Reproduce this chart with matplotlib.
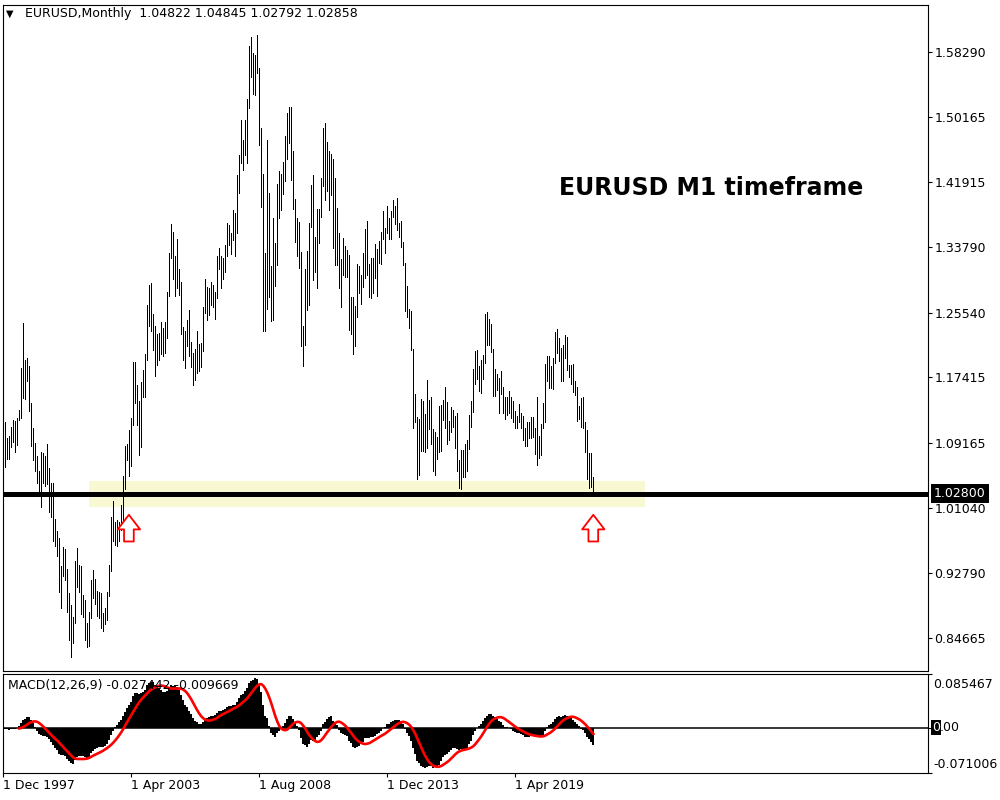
import numpy as np
import pandas as pd
import matplotlib.pyplot as plt

plt.rcParams['font.family'] = ['DejaVu Sans']

# EURUSD monthly bars, Dec 1997 .. Jul 2022 (one row per year)
highs = [
    1.1150, 1.1180, 1.0980, 1.1000, 1.1120, 1.1200, 1.1190, 1.1230, 1.1330, 1.1860, 1.2430, 1.1960, 1.1980,
    1.1880, 1.1415, 1.1100, 1.0920, 1.0750, 1.0560, 1.0800, 1.0790, 1.0760, 1.0900, 1.0600, 1.0420,
    1.0415, 0.9965, 0.9810, 0.9720, 0.9370, 0.9605, 0.9585, 0.9330, 0.9030, 0.8880, 0.8730, 0.9430,
    0.9595, 0.9390, 0.9370, 0.9010, 0.8950, 0.8660, 0.8790, 0.9200, 0.9325, 0.9210, 0.9060, 0.9050,
    0.9030, 0.8780, 0.8850, 0.9040, 0.9380, 0.9990, 1.0190, 0.9930, 0.9950, 0.9930, 1.0140, 1.0500,
    1.0880, 1.0900, 1.1080, 1.1230, 1.1930, 1.1930, 1.1640, 1.1440, 1.1680, 1.1830, 1.2030, 1.2650,
    1.2900, 1.2930, 1.2540, 1.2390, 1.2290, 1.2300, 1.2440, 1.2360, 1.2440, 1.2810, 1.3310, 1.3670,
    1.3570, 1.3270, 1.3480, 1.3100, 1.2940, 1.2370, 1.2320, 1.2460, 1.2590, 1.2180, 1.2050, 1.2100,
    1.2330, 1.2160, 1.2170, 1.2630, 1.2980, 1.2880, 1.2870, 1.2940, 1.2900, 1.2810, 1.3260, 1.3370,
    1.3270, 1.3240, 1.3410, 1.3680, 1.3650, 1.3550, 1.3850, 1.3800, 1.4280, 1.4530, 1.4970, 1.4720,
    1.4970, 1.5240, 1.5900, 1.6020, 1.5820, 1.5790, 1.6040, 1.5630, 1.4870, 1.4300, 1.3300, 1.4720,
    1.4060, 1.3140, 1.3740, 1.3430, 1.4170, 1.4340, 1.4300, 1.4450, 1.4770, 1.5060, 1.5140, 1.5140,
    1.4580, 1.3980, 1.3740, 1.3690, 1.3320, 1.2390, 1.3100, 1.3330, 1.3680, 1.4160, 1.4280, 1.3500,
    1.3860, 1.3860, 1.4250, 1.4880, 1.4940, 1.4700, 1.4580, 1.4550, 1.4480, 1.4250, 1.3870, 1.3550,
    1.3230, 1.3490, 1.3390, 1.3340, 1.3280, 1.2750, 1.2750, 1.2640, 1.3170, 1.3140, 1.3030, 1.3310,
    1.3600, 1.3710, 1.3160, 1.3240, 1.3240, 1.3420, 1.3350, 1.3450, 1.3570, 1.3830, 1.3620, 1.3890,
    1.3740, 1.3830, 1.3970, 1.3900, 1.3990, 1.3680, 1.3700, 1.3440, 1.3180, 1.2890, 1.2600, 1.2570,
    1.2100, 1.1530, 1.1240, 1.1220, 1.1470, 1.1440, 1.1280, 1.1710, 1.1460, 1.1500, 1.1090, 1.1060,
    1.0990, 1.1380, 1.1390, 1.1460, 1.1620, 1.1430, 1.1190, 1.1370, 1.1330, 1.1250, 1.1300, 1.0700,
    1.0830, 1.0830, 1.0910, 1.0960, 1.1270, 1.1450, 1.1850, 1.2070, 1.2090, 1.1880, 1.1960, 1.2020,
    1.2540, 1.2560, 1.2480, 1.2410, 1.2100, 1.1850, 1.1790, 1.1730, 1.1820, 1.1620, 1.1500, 1.1490,
    1.1570, 1.1490, 1.1450, 1.1320, 1.1260, 1.1410, 1.1290, 1.1250, 1.1110, 1.1180, 1.1180, 1.1240,
    1.1240, 1.1100, 1.1500, 1.1000, 1.1150, 1.1420, 1.1910, 1.2010, 1.2010, 1.1880, 1.1990, 1.2310,
    1.2350, 1.2240, 1.2110, 1.2150, 1.2270, 1.2250, 1.1900, 1.1900, 1.1910, 1.1690, 1.1620, 1.1380,
    1.1480, 1.1500, 1.1185, 1.1080, 1.0790, 1.0790, 1.04845,
]
lows = [
    1.0890, 1.0620, 1.0720, 1.0720, 1.0870, 1.0930, 1.0810, 1.0890, 1.1205, 1.1230, 1.1480, 1.1470, 1.1690,
    1.1320, 1.0880, 1.0700, 1.0560, 1.0420, 1.0250, 1.0110, 1.0420, 1.0380, 1.0400, 1.0050, 0.9990,
    0.9680, 0.9620, 0.9500, 0.9050, 0.8844, 0.9250, 0.9200, 0.8790, 0.8440, 0.8228, 0.8400, 0.8660,
    0.9110, 0.9050, 0.8770, 0.8735, 0.8440, 0.8350, 0.8370, 0.8720, 0.8970, 0.8900, 0.8740, 0.8720,
    0.8590, 0.8560, 0.8640, 0.8690, 0.9000, 0.9310, 0.9680, 0.9630, 0.9620, 0.9690, 0.9830, 0.9860,
    1.0340, 1.0700, 1.0500, 1.0630, 1.1140, 1.1420, 1.1140, 1.0770, 1.0870, 1.1500, 1.1500, 1.1960,
    1.2390, 1.2330, 1.2090, 1.1760, 1.1900, 1.1960, 1.2040, 1.2010, 1.2050, 1.2230, 1.2760, 1.3240,
    1.2980, 1.2760, 1.2860, 1.2780, 1.2290, 1.1960, 1.1860, 1.2130, 1.2010, 1.1870, 1.1640, 1.1710,
    1.1800, 1.1820, 1.1870, 1.2070, 1.2550, 1.2460, 1.2520, 1.2650, 1.2620, 1.2480, 1.2740, 1.3100,
    1.2870, 1.2980, 1.3060, 1.3270, 1.3410, 1.3290, 1.3470, 1.3260, 1.3560, 1.4060, 1.4430, 1.4350,
    1.4530, 1.4440, 1.5130, 1.5520, 1.5300, 1.5290, 1.5560, 1.4660, 1.3880, 1.2330, 1.2330, 1.2600,
    1.2750, 1.2450, 1.2460, 1.2890, 1.3150, 1.3740, 1.3850, 1.4050, 1.4210, 1.4480, 1.4680, 1.4220,
    1.3860, 1.3440, 1.3270, 1.3120, 1.2140, 1.1880, 1.2150, 1.2590, 1.2650, 1.3630, 1.2970, 1.3070,
    1.2870, 1.3430, 1.3750, 1.4150, 1.3970, 1.4080, 1.3840, 1.4030, 1.3370, 1.3150, 1.3150, 1.2860,
    1.2620, 1.3030, 1.3000, 1.3000, 1.2340, 1.2290, 1.2040, 1.2130, 1.2500, 1.2800, 1.2660, 1.2880,
    1.2990, 1.3030, 1.2750, 1.2740, 1.2800, 1.2990, 1.2760, 1.3180, 1.3170, 1.3480, 1.3300, 1.3550,
    1.3480, 1.3480, 1.3750, 1.3670, 1.3590, 1.3500, 1.3380, 1.3150, 1.2570, 1.2500, 1.2360, 1.2090,
    1.1100, 1.1180, 1.0460, 1.0520, 1.0820, 1.0820, 1.0810, 1.0850, 1.1090, 1.0900, 1.0560, 1.0520,
    1.0710, 1.0810, 1.0820, 1.1210, 1.1100, 1.0910, 1.0950, 1.1050, 1.1120, 1.0850, 1.0570, 1.0350,
    1.0340, 1.0490, 1.0490, 1.0570, 1.0840, 1.1120, 1.1310, 1.1660, 1.1720, 1.1570, 1.1550, 1.1720,
    1.1920, 1.2150, 1.2150, 1.2060, 1.1510, 1.1510, 1.1580, 1.1300, 1.1530, 1.1300, 1.1220, 1.1270,
    1.1290, 1.1230, 1.1180, 1.1110, 1.1110, 1.1180, 1.1100, 1.0960, 1.0880, 1.0880, 1.0980, 1.0980,
    1.0990, 1.0780, 1.0640, 1.0730, 1.0770, 1.1100, 1.1180, 1.1700, 1.1610, 1.1610, 1.1600, 1.1920,
    1.2050, 1.1950, 1.1700, 1.1700, 1.1990, 1.1840, 1.1750, 1.1660, 1.1560, 1.1520, 1.1190, 1.1220,
    1.1120, 1.1100, 1.0810, 1.0470, 1.0350, 1.0360, 1.02792,
]
closes = [
    1.1000, 1.0800, 1.0900, 1.0800, 1.1000, 1.1000, 1.0980, 1.1150, 1.1250, 1.1800, 1.1700, 1.1550, 1.1750,
    1.1580, 1.0990, 1.0770, 1.0570, 1.0430, 1.0340, 1.0690, 1.0580, 1.0680, 1.0530, 1.0090, 1.0070,
    0.9710, 0.9645, 0.9570, 0.9110, 0.9340, 0.9520, 0.9270, 0.8860, 0.8830, 0.8500, 0.8710, 0.9420,
    0.9370, 0.9210, 0.8780, 0.8880, 0.8460, 0.8480, 0.8760, 0.9120, 0.9120, 0.9030, 0.8910, 0.8900,
    0.8600, 0.8700, 0.8720, 0.9020, 0.9340, 0.9920, 0.9780, 0.9810, 0.9870, 0.9890, 0.9930, 1.0490,
    1.0740, 1.0780, 1.0910, 1.1150, 1.1800, 1.1500, 1.1240, 1.0980, 1.1650, 1.1610, 1.1990, 1.2590,
    1.2450, 1.2480, 1.2320, 1.1970, 1.2200, 1.2190, 1.2020, 1.2180, 1.2420, 1.2760, 1.3270, 1.3560,
    1.3030, 1.3250, 1.2960, 1.2860, 1.2300, 1.2100, 1.2120, 1.2340, 1.2030, 1.1990, 1.1790, 1.1840,
    1.2150, 1.1920, 1.2110, 1.2620, 1.2810, 1.2790, 1.2770, 1.2810, 1.2680, 1.2760, 1.3250, 1.3200,
    1.3000, 1.3230, 1.3360, 1.3650, 1.3450, 1.3540, 1.3690, 1.3620, 1.4260, 1.4480, 1.4630, 1.4590,
    1.4860, 1.5180, 1.5790, 1.5600, 1.5550, 1.5760, 1.5610, 1.4680, 1.4090, 1.2730, 1.2690, 1.3970,
    1.2800, 1.2670, 1.3250, 1.3230, 1.4150, 1.4030, 1.4250, 1.4330, 1.4630, 1.4720, 1.5000, 1.4320,
    1.3860, 1.3630, 1.3510, 1.3290, 1.2290, 1.2240, 1.3050, 1.2680, 1.3630, 1.3930, 1.2990, 1.3380,
    1.3690, 1.3800, 1.4160, 1.4810, 1.4390, 1.4500, 1.4390, 1.4370, 1.3390, 1.3860, 1.3440, 1.2960,
    1.3080, 1.3340, 1.3340, 1.3240, 1.2370, 1.2660, 1.2300, 1.2580, 1.2860, 1.2960, 1.2990, 1.3190,
    1.3580, 1.3060, 1.2820, 1.3170, 1.2990, 1.3010, 1.3300, 1.3220, 1.3520, 1.3580, 1.3590, 1.3740,
    1.3490, 1.3800, 1.3770, 1.3870, 1.3630, 1.3690, 1.3390, 1.3130, 1.2630, 1.2530, 1.2450, 1.2100,
    1.1290, 1.1200, 1.0730, 1.1220, 1.0990, 1.1150, 1.0980, 1.1210, 1.1180, 1.1000, 1.0570, 1.0860,
    1.0830, 1.0870, 1.1380, 1.1450, 1.1130, 1.1100, 1.1170, 1.1160, 1.1240, 1.0980, 1.0590, 1.0520,
    1.0800, 1.0570, 1.0650, 1.0900, 1.1240, 1.1420, 1.1840, 1.1910, 1.1810, 1.1640, 1.1900, 1.2000,
    1.2410, 1.2190, 1.2320, 1.2080, 1.1690, 1.1680, 1.1690, 1.1600, 1.1610, 1.1310, 1.1320, 1.1470,
    1.1450, 1.1370, 1.1220, 1.1210, 1.1170, 1.1370, 1.1080, 1.0990, 1.0900, 1.1150, 1.1020, 1.1210,
    1.1090, 1.1030, 1.1030, 1.0950, 1.1100, 1.1230, 1.1780, 1.1940, 1.1720, 1.1650, 1.1930, 1.2210,
    1.2130, 1.2070, 1.1730, 1.2020, 1.2230, 1.1860, 1.1870, 1.1810, 1.1580, 1.1560, 1.1340, 1.1370,
    1.1230, 1.1220, 1.1070, 1.0545, 1.0730, 1.0480, 1.02858,
]

price_ticks = [1.58290, 1.50165, 1.41915, 1.33790, 1.25540, 1.17415, 1.09165, 1.01040, 0.92790, 0.84665]
date_labels = ['1 Dec 1997', '1 Apr 2003', '1 Aug 2008', '1 Dec 2013', '1 Apr 2019']
date_bars = [0, 64, 128, 192, 256]

level = 1.028
zone_bars = (43, 321)
zone_prices = (1.0113, 1.0440)
arrow_bars = [62.8, 295]
arrow_prices = (0.9680, 1.0015)
macd_top, macd_bottom = 0.085467, -0.071006

h = np.array(highs)
l = np.array(lows)
c = np.array(closes)
idx = np.arange(len(c))


def ema(v, n):
    k = 2.0 / (n + 1)
    out = np.empty(len(v))
    out[0] = v[0]
    for j in range(1, len(v)):
        out[j] = v[j] * k + out[j - 1] * (1 - k)
    return out


macd = ema(c, 12) - ema(c, 26)
signal = pd.Series(macd).rolling(9).mean().values

fig = plt.figure(figsize=(10, 8), dpi=100)
ax = fig.add_axes([0.0025, 129 / 800, 0.925, 666 / 800])
ax2 = fig.add_axes([0.0025, 27.5 / 800, 0.925, 98.5 / 800], sharex=ax)

# price bars: thin 1px high-low lines
ax.vlines(idx, l, h, color='black', linewidth=0.55, antialiased=False, zorder=3)
ax.add_patch(plt.Rectangle((zone_bars[0], zone_prices[0]), zone_bars[1] - zone_bars[0],
                           zone_prices[1] - zone_prices[0], facecolor='#f8f8d2',
                           edgecolor='none', zorder=1))
ax.axhline(level, color='black', linewidth=3.6, zorder=4)
for b in arrow_bars:
    ax.annotate('', xy=(b, arrow_prices[1]), xytext=(b, arrow_prices[0]),
                arrowprops=dict(arrowstyle='simple,head_length=0.75,head_width=1.15,tail_width=0.5',
                                fc='white', ec='red', lw=1.3, shrinkA=0, shrinkB=0,
                                mutation_scale=14), zorder=5)

ax.set_xlim(-0.4, 462.1)
ax.set_ylim(0.8053, 1.6419)
ax.set_yticks(price_ticks)
ax.set_yticklabels(['%.5f' % p for p in price_ticks])
ax.tick_params(axis='y', left=False, right=True, labelleft=False, labelright=True,
               length=3, width=0.8, pad=2, labelsize=9)
ax.tick_params(axis='x', bottom=False, labelbottom=False)
for s in ax.spines.values():
    s.set_linewidth(0.8)

ax.text(1.007, level, '1.02800', transform=ax.get_yaxis_transform(), ha='left', va='center',
        color='white', fontsize=9, bbox=dict(facecolor='black', edgecolor='none', pad=2.2), zorder=6)

fig.text(0.006, 1 - 14 / 800, '\u25bc', fontsize=7, va='center', ha='left')
fig.text(0.025, 1 - 14 / 800, 'EURUSD,Monthly  1.04822 1.04845 1.02792 1.02858',
         fontsize=9, va='center', ha='left')
fig.text(711 / 1000, 1 - 188 / 800, 'EURUSD M1 timeframe', fontsize=17, fontweight='bold',
         ha='center', va='center')

# MACD window
ax2.bar(idx, macd, width=1.0, color='black', linewidth=0, zorder=2)
ax2.plot(idx, signal, color='red', linewidth=1.9, zorder=3)
ax2.axhline(0, color='black', linewidth=1.1, zorder=1)
ax2.set_ylim(macd_bottom, macd_top)
ax2.set_yticks([macd_top, 0, macd_bottom])
ax2.set_yticklabels([])
ax2.tick_params(axis='y', left=False, right=True, labelleft=False, labelright=True,
                length=3, width=0.8, pad=2, labelsize=9)
ytr = ax2.transAxes
ax2.text(1.0065, 0.895, '0.085467', transform=ytr, ha='left', va='center', fontsize=9)
ax2.text(1.0065, 0.085, '-0.071006', transform=ytr, ha='left', va='center', fontsize=9)
ax2.text(1.0049, 0, '0', transform=ax2.get_yaxis_transform(), ha='left', va='center',
         color='white', fontsize=9, bbox=dict(facecolor='black', edgecolor='none', pad=0.6))
ax2.text(1.0049 + 8 / 925, 0, '.00', transform=ax2.get_yaxis_transform(), ha='left',
         va='center', fontsize=9)
ax2.text(0.006, 0.88, 'MACD(12,26,9) -0.027442 -0.009669', transform=ax2.transAxes,
         fontsize=9, va='center', ha='left')

ax2.set_xticks(date_bars)
ax2.set_xticklabels(date_labels)
for t in ax2.get_xticklabels():
    t.set_ha('left')
ax2.tick_params(axis='x', length=3, width=0.8, pad=2, labelsize=9)
for s in ax2.spines.values():
    s.set_linewidth(0.8)

fig.savefig('out.png', dpi=100)
